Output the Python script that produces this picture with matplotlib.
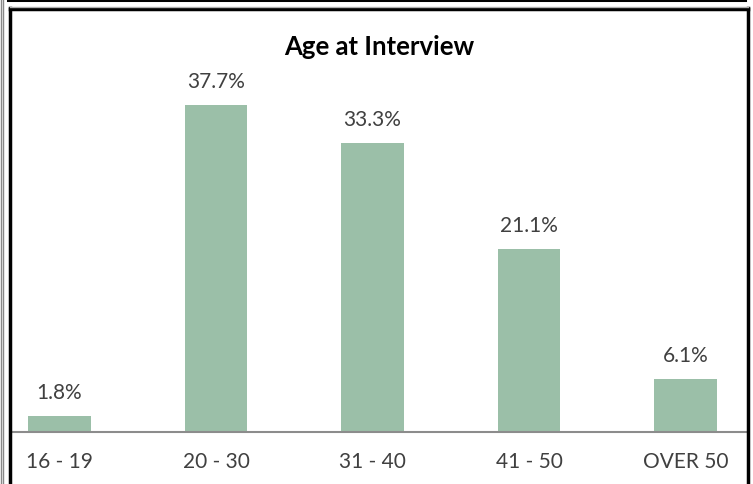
import matplotlib.pyplot as plt
from matplotlib.lines import Line2D

categories = ['16 - 19', '20 - 30', '31 - 40', '41 - 50', 'OVER 50']
values = [1.8, 37.7, 33.3, 21.1, 6.1]
labels = ['1.8%', '37.7%', '33.3%', '21.1%', '6.1%']

W, H = 753, 485
fig = plt.figure(figsize=(W / 100, H / 100), dpi=100)
plt.rcParams['font.family'] = ['Lato', 'DejaVu Sans']

# axes placed in pixel terms: x from 11 to 746, baseline at y=433, top at y=11
ax = fig.add_axes([11 / W, (H - 433) / H, (746 - 11) / W, (433 - 11) / H])
ax.bar(range(len(values)), values, width=0.4, color='#9bbfa8')
ax.set_xlim(-0.31, 4.387)
ax.set_ylim(0, 48.7)

for i, (v, lab) in enumerate(zip(values, labels)):
    ax.annotate(lab, (i, v), xytext=(0, 24), textcoords='offset pixels',
                ha='center', va='center', fontsize=15, color='#404040')

for s in ['top', 'right', 'left']:
    ax.spines[s].set_visible(False)
ax.spines['bottom'].set_color('#8c8c8c')
ax.spines['bottom'].set_linewidth(1.5)
ax.set_yticks([])
ax.set_xticks(range(len(categories)))
ax.set_xticklabels(categories, fontsize=15, color='#404040')
ax.tick_params(axis='x', length=0, pad=14)
ax.patch.set_visible(False)

fig.text(379 / W, 1 - 47 / H, 'Age at Interview', ha='center', va='center',
         fontsize=18.5, fontweight='bold', color='black')

# frame around the chart, as in the screenshot
def px_line(x0, y0, x1, y1, color, lw):
    fig.add_artist(Line2D([x0 / W, x1 / W], [1 - y0 / H, 1 - y1 / H],
                          color=color, linewidth=lw, transform=fig.transFigure))

px_line(8, 0.5, 745, 0.5, 'black', 2.2)
px_line(0.5, 0, 0.5, H, '#888888', 1.0)
px_line(2.5, 0, 2.5, H, '#888888', 1.0)
px_line(10, 10, 748, 10, 'black', 2.5)
px_line(10, 9, 10, H, 'black', 2.5)
px_line(748, 9, 748, H, 'black', 2.5)
px_line(10, 8, 748, 8, '#b0b0b0', 1.0)

fig.savefig('out.png', dpi=100)
